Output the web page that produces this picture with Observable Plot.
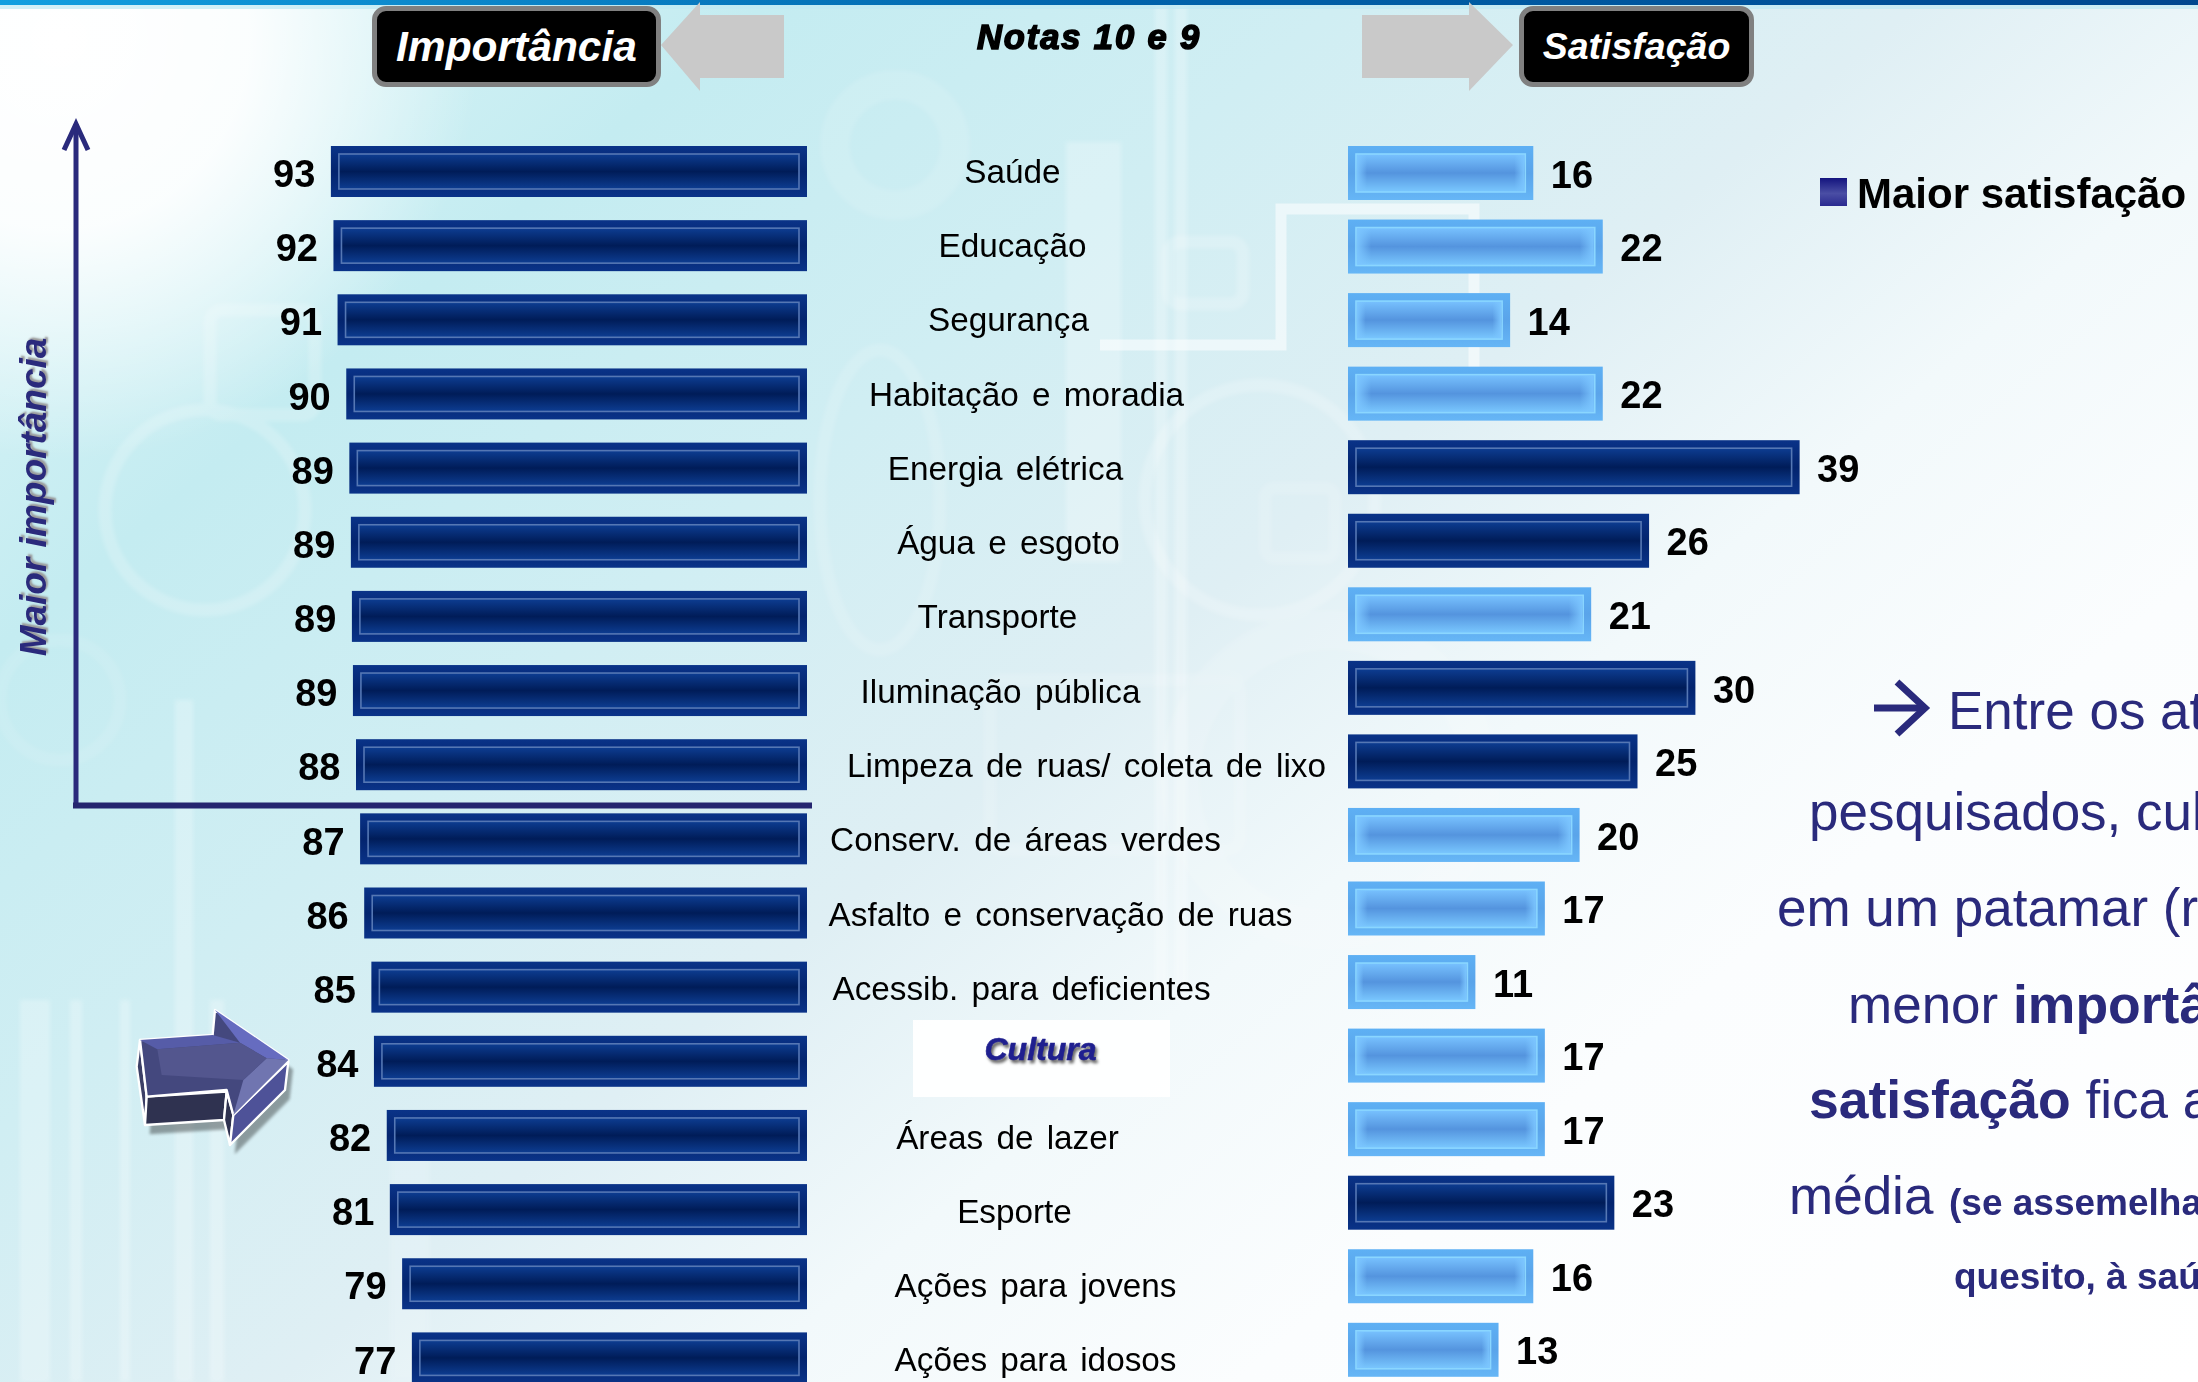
<!DOCTYPE html>
<html lang="pt">
<head>
<meta charset="utf-8">
<script src="https://cdn.jsdelivr.net/npm/d3@7"></script>
<script src="https://cdn.jsdelivr.net/npm/@observablehq/plot@0.6"></script>
<style>
  html,body{margin:0;padding:0;background:#fff}
  #stage{position:relative;width:2198px;height:1382px;overflow:hidden;font-family:"Liberation Sans",Arial,sans-serif;
    background:
      radial-gradient(ellipse 420px 420px at 60px 40px,#ffffff 0%,rgba(255,255,255,.9) 45%,rgba(255,255,255,0) 100%),
      linear-gradient(140deg,#e0f6f8 0%,#c4ecf1 20%,#d0eef3 35%,#dfeff4 50%,#f2f9fb 62%,#fbfdfe 75%,#ffffff 100%);}
  #stage>svg,#stage>.layer{position:absolute;left:0;top:0}
  .abs{position:absolute;white-space:nowrap}
  .btn{box-sizing:border-box;background:#000;border:5px solid #808080;border-radius:14px;color:#fff;font-weight:bold;font-style:italic;
    display:flex;align-items:center;justify-content:center;}
  .para{color:#2a2a7c;font-size:53px;line-height:1;}
  .para b{font-size:53.5px}
  .para.small{font-size:37px;font-weight:bold}
</style>
</head>
<body>
<div id="stage"></div>
<script>
// ---------- data ----------
const categorias = ["Saúde","Educação","Segurança","Habitação e moradia","Energia elétrica","Água e esgoto","Transporte","Iluminação pública","Limpeza de ruas/ coleta de lixo","Conserv. de áreas verdes","Asfalto e conservação de ruas","Acessib. para deficientes","Cultura","Áreas de lazer","Esporte","Ações para jovens","Ações para idosos"];
const importancia = [93,92,91,90,89,89,89,89,88,87,86,85,84,82,81,79,77];
// bar lengths (the printed labels above are rounded)
const importanciaBarra = [92.9,92.4,91.6,89.9,89.3,89.0,88.8,88.6,88.0,87.2,86.4,85.0,84.5,82.0,81.4,79.0,77.1];
const satisfacao  = [16,22,14,22,39,26,21,30,25,20,17,11,17,17,23,16,13];
const destaque    = [false,false,false,false,true,true,false,true,true,false,false,false,false,false,true,false,false];

// ---------- layout (not data) ----------
const W = 2198, H = 1382;
const labelCenter = [1012,1012,1008,1026,1005,1008,997,1000,1086,1025,1060,1021,1040,1007,1014,1035,1035];
const rows = categorias.map((c,i)=>({c,i,imp:importancia[i],bar:importanciaBarra[i],sat:satisfacao[i],hi:destaque[i]}));

function band(start, step, bar){
  const pad = 1 - bar/step;
  const r0 = start - pad*step/2;
  return {type:"band",domain:categorias,range:[r0, r0+step*categorias.length],paddingInner:pad,paddingOuter:pad/2,align:.5,round:false};
}
const base = {width:W,height:H,marginLeft:0,marginRight:0,marginTop:0,marginBottom:0,
  style:{background:"transparent",overflow:"visible",maxWidth:"none",fontFamily:'"Liberation Sans",Arial,sans-serif'}};
const noAxes = {axis:null,label:null};

function stops(id, list, horiz){
  const g = d3.create("svg:linearGradient").attr("id",id).attr("x1",0).attr("y1",0)
    .attr("x2",horiz?1:0).attr("y2",horiz?0:1);
  list.forEach(([o,c,a])=>g.append("stop").attr("offset",o).attr("stop-color",c).attr("stop-opacity",a==null?1:a));
  return g.node();
}
const defs = () => {
  const d = d3.create("svg:defs").node();
  d.append(stops("darkOuter",[[0,"#0a3388"],[.5,"#03246e"],[1,"#0a3388"]]));
  d.append(stops("darkInner",[[0,"#0d3d92"],[.5,"#001c58"],[1,"#0d3d92"]]));
  d.append(stops("lightOuter",[[0,"#5eb0f4"],[.5,"#5aa4ea"],[1,"#66b6f6"]]));
  d.append(stops("lightInner",[[0,"#78c2ff"],[.5,"#5494de"],[1,"#7ac8ff"]]));
  d.append(stops("lightEnds",[[0,"#7cc6ff",.95],[.06,"#7cc6ff",0],[.94,"#7cc6ff",0],[1,"#7cc6ff",.95]],true));
  return d;
};
const outerFill = d => d.hi ? "url(#darkOuter)" : "url(#lightOuter)";
const innerFill = d => d.hi ? "url(#darkInner)" : "url(#lightInner)";
const innerStroke = d => d.hi ? "#5577b4" : "#8ad6ff";

// ---------- left chart: importância ----------
const leftPlot = Plot.plot({...base,
  x:{domain:[0,100],range:[807,807-5.125*100],...noAxes},
  y:{...band(146,74.15,51),...noAxes},
  marks:[
    defs,
    Plot.barX(rows,{y:"c",x1:0,x2:"bar",fill:"url(#darkOuter)"}),
    Plot.barX(rows,{y:"c",x1:0,x2:"bar",fill:"url(#darkInner)",stroke:"#5577b4",strokeWidth:1.6,inset:8}),
    Plot.text(rows,{y:"c",x:"bar",text:d=>String(d.imp),textAnchor:"end",dx:-16,dy:3,fontSize:38,fontWeight:"bold",fill:"#000"})
  ]});

// ---------- right chart: satisfação ----------
const rightPlot = Plot.plot({...base,
  x:{domain:[0,100],range:[1348,1348+11.58*100],...noAxes},
  y:{...band(146,73.55,54),...noAxes},
  marks:[
    defs,
    Plot.barX(rows,{y:"c",x1:0,x2:"sat",fill:outerFill}),
    Plot.barX(rows,{y:"c",x1:0,x2:"sat",fill:innerFill,stroke:innerStroke,strokeWidth:1.6,inset:8}),
    Plot.barX(rows.filter(d=>!d.hi),{y:"c",x1:0,x2:"sat",fill:"url(#lightEnds)",inset:9}),
    Plot.text(rows,{y:"c",x:"sat",text:d=>String(d.sat),textAnchor:"start",dx:17,dy:2,fontSize:38,fontWeight:"bold",fill:"#000"})
  ]});

// ---------- category labels ----------
const labelPlot = Plot.plot({...base,
  y:{...band(146,74.3,51),...noAxes},
  x:{axis:null},
  marks:[
    Plot.text(rows.filter(d=>d.c!=="Cultura"),{y:"c",x:{value:d=>labelCenter[d.i],scale:null},text:"c",fontSize:33.3,fill:"#000"}),
    Plot.text(rows.filter(d=>d.c==="Cultura"),{y:"c",x:{value:d=>labelCenter[d.i],scale:null},text:"c",fontSize:32,fontWeight:"bold",fontStyle:"italic",fill:"#1f1f8f",stroke:"#1f1f8f",strokeWidth:.6,dy:-14})
  ]});
labelPlot.style.wordSpacing = "4px";
labelPlot.querySelectorAll("text").forEach(t=>{ if(t.textContent==="Cultura") t.style.filter="drop-shadow(2px 3px 1.5px #666)"; });

// ---------- static page furniture ----------
const stage = document.getElementById("stage");
const NS = "http://www.w3.org/2000/svg";
const back = document.createElementNS(NS,"svg");
back.setAttribute("width",W);back.setAttribute("height",H);
back.innerHTML = `
<defs>
  <linearGradient id="topBand" x1="0" x2="1" y1="0" y2="0"><stop offset="0" stop-color="#13a0e0"/><stop offset=".5" stop-color="#0064ac"/><stop offset="1" stop-color="#00478f"/></linearGradient>
  <linearGradient id="legendSq" x1="0" x2="0" y1="0" y2="1"><stop offset="0" stop-color="#14147e"/><stop offset=".55" stop-color="#4a4ea4"/><stop offset="1" stop-color="#2a2a90"/></linearGradient>
  <filter id="blur4"><feGaussianBlur stdDeviation="5"/></filter>
  <filter id="blur2"><feGaussianBlur stdDeviation="2"/></filter>
</defs>
<g fill="#fff" opacity=".25" filter="url(#blur2)">
  <rect x="1066" y="142" width="55" height="420"/>
  <rect x="1155" y="0" width="12" height="1000"/><rect x="1175" y="0" width="12" height="1000"/>
  <rect x="20" y="1000" width="30" height="382"/>
  <rect x="70" y="1000" width="12" height="382"/><rect x="120" y="1000" width="10" height="382"/>
  <rect x="175" y="700" width="18" height="682"/><rect x="210" y="1000" width="14" height="382"/>
  <rect x="390" y="1130" width="40" height="252" opacity=".5"/>
</g>
<g fill="none" stroke="#fff" stroke-width="13" opacity=".2" filter="url(#blur2)">
  <rect x="1168" y="242" width="75" height="62" rx="12"/>
  <rect x="210" y="310" width="105" height="105" rx="12"/>
  <rect x="990" y="680" width="250" height="170" rx="12" opacity=".7"/>
  <rect x="1265" y="488" width="70" height="70" rx="10" opacity=".7"/>
  <circle cx="205" cy="510" r="100"/><circle cx="895" cy="145" r="60" stroke-width="30" opacity=".6"/>
  <ellipse cx="880" cy="500" rx="60" ry="150" opacity=".7"/>
  <circle cx="1260" cy="500" r="115"/>
  <circle cx="1330" cy="780" r="150" stroke-width="40" opacity=".7"/>
  <circle cx="60" cy="700" r="60" opacity=".5"/>
</g>
<path d="M1100 345 L1281 345 L1281 209 L1474 209 L1474 400" fill="none" stroke="#fff" stroke-width="11" opacity=".55"/>
<rect x="0" y="0" width="${W}" height="5" fill="url(#topBand)"/>
<rect x="0" y="5" width="${W}" height="4" fill="#bfeaf4" opacity=".7"/>
<!-- white box behind Cultura -->
<rect x="913" y="1020" width="257" height="77" fill="#fff" opacity=".92"/>
<!-- grey arrows -->
<polygon points="661,45 700,2 700,15 784,15 784,78 700,78 700,91" fill="#c9c9c9"/>
<polygon points="1513,45 1469,2 1469,15 1362,15 1362,78 1469,78 1469,91" fill="#c9c9c9"/>
<!-- axes -->
<g fill="none" stroke="#2a2a7c" stroke-width="5">
  <path d="M76 806 L76 124" /><path d="M64 150 L76 124 L88 150" />
  <path d="M73 805.5 L812 805.5" stroke="#25256f" stroke-width="6"/>
</g>
<!-- legend square -->
<rect x="1820" y="178" width="27" height="28" fill="url(#legendSq)"/>
<!-- paragraph arrow -->
<g fill="none" stroke="#2a2a7c" stroke-width="7">
  <path d="M1874 708 L1924 708"/><path d="M1897 682 L1925 708 L1897 734"/>
</g>
<!-- 3D arrow -->
<g transform="translate(120,1000) scale(.3333)" stroke="#fff" stroke-width="7" stroke-linejoin="round">
  <polygon points="60,120 50,200 80,300 75,375 312,360 320,275 340,345 330,435 495,270 505,180 285,30 278,105" fill="#000" opacity=".35" stroke="none" transform="translate(14,28)" filter="url(#blur4)"/>
  <polygon points="60,120 50,200 75,375 80,290" fill="#3c3f66"/>
  <polygon points="80,290 320,275 312,360 75,375" fill="#2f3250"/>
  <polygon points="320,275 340,345 330,435 312,360" fill="#2f3250"/>
  <polygon points="340,345 505,185 495,270 330,435" fill="#4e5298"/>
  <polygon points="60,120 278,105 285,30 505,180 340,345 320,270 80,290" fill="#44487e"/>
  <polygon points="60,120 278,105 360,128 112,148" fill="#565ca8" stroke="none"/>
  <polygon points="285,30 505,180 440,175 360,128" fill="#666cc0" stroke="none"/>
  <polygon points="505,180 340,345 370,240 440,175" fill="#7075b0" stroke="none"/>
  <polygon points="112,148 360,128 440,175 370,240 125,225" fill="#53568e" stroke="none"/>
</g>`;
stage.appendChild(back);
[leftPlot,rightPlot,labelPlot].forEach(p=>stage.appendChild(p));

function add(html,css,cls){
  const e=document.createElement("div");
  e.className="abs "+(cls||"");e.innerHTML=html;e.style.cssText=css;stage.appendChild(e);return e;
}
add("Importância","left:372px;top:6px;width:289px;height:81px;font-size:42.5px;","btn");
add("Satisfação","left:1519px;top:6px;width:235px;height:81px;font-size:37.5px;","btn");
add("Notas 10 e 9","left:977px;top:18px;font-size:34.5px;font-weight:bold;font-style:italic;color:#000;-webkit-text-stroke:1.6px #000;letter-spacing:1.9px;");
add("Maior importância","left:34px;top:497px;font-size:37px;font-weight:bold;font-style:italic;color:#2a2a7c;transform:translate(-50%,-50%) rotate(-90deg);text-shadow:2px 2px 2px #999;");
add("Maior satisfação","left:1857px;top:170px;font-size:42px;font-weight:bold;color:#000;");
const paraLines=[
  ["Entre os at",1948,684,""],
  ["pesquisados, cul",1809,785,""],
  ["em um patamar (r",1777,881,""],
  ["menor <b>importâ</b>",1848,978,""],
  ["<b>satisfação</b> fica a",1809,1073,""],
  ["média",1789,1169,""],
  ["(se assemelha",1949,1184,"small"],
  ["quesito, à saú",1954,1258,"small"]
];
paraLines.forEach(([t,x,y,c])=>add(t,`left:${x}px;top:${y}px;`,"para "+c));
</script>
</body>
</html>
